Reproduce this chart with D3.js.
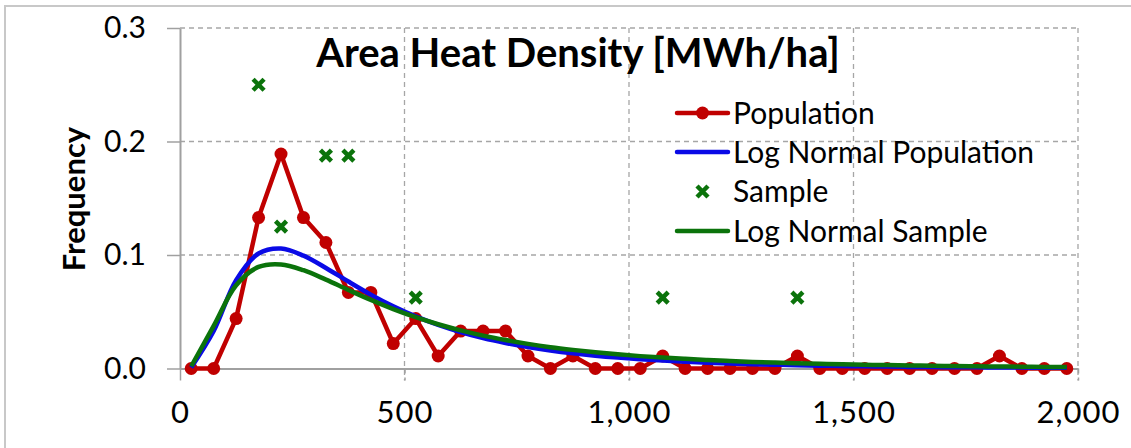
<!DOCTYPE html>
<html>
<head>
<meta charset="utf-8">
<script src="https://cdn.jsdelivr.net/npm/d3@7"></script>
<style>
  html, body { margin: 0; padding: 0; background: #fff; }
  svg { display: block; }
  text { font-family: Lato, "Open Sans", "Liberation Sans", sans-serif; fill: #000; }
</style>
</head>
<body>
<svg id="chart" width="1131" height="448"></svg>
<script>
// Bin centres of the heat density classes [MWh/ha]
const binCenters = [25, 75, 125, 175, 225, 275, 325, 375, 425, 475,
  525, 575, 625, 675, 725, 775, 825, 875, 925, 975,
  1025, 1075, 1125, 1175, 1225, 1275, 1325, 1375, 1425, 1475,
  1525, 1575, 1625, 1675, 1725, 1775, 1825, 1875, 1925, 1975];

// Observed frequency of the whole population per bin
const population = [0, 0, 0.044, 0.133, 0.189, 0.133, 0.111, 0.067, 0.067, 0.022,
  0.044, 0.011, 0.033, 0.033, 0.033, 0.011, 0, 0.011, 0, 0,
  0, 0.011, 0, 0, 0, 0, 0, 0.011, 0, 0,
  0, 0, 0, 0, 0, 0, 0.011, 0, 0, 0];

// Fitted log-normal frequency, population
const logNormalPopulation = [0.0008, 0.0330, 0.0778, 0.1013, 0.1057, 0.0994, 0.0886, 0.0766, 0.0651, 0.0548,
  0.0459, 0.0384, 0.0321, 0.0268, 0.0225, 0.0189, 0.0159, 0.0134, 0.0113, 0.0096,
  0.0082, 0.0070, 0.0060, 0.0051, 0.0044, 0.0038, 0.0033, 0.0029, 0.0025, 0.0022,
  0.0019, 0.0017, 0.0014, 0.0013, 0.0011, 0.0010, 0.0009, 0.0008, 0.0007, 0.0006];

// Fitted log-normal frequency, sample
const logNormalSample = [0.0020, 0.0375, 0.0733, 0.0895, 0.0917, 0.0866, 0.0783, 0.0692, 0.0604, 0.0524,
  0.0452, 0.0390, 0.0336, 0.0290, 0.0251, 0.0217, 0.0188, 0.0164, 0.0143, 0.0125,
  0.0109, 0.0096, 0.0085, 0.0075, 0.0066, 0.0058, 0.0052, 0.0046, 0.0041, 0.0037,
  0.0033, 0.0030, 0.0027, 0.0024, 0.0022, 0.0019, 0.0018, 0.0016, 0.0014, 0.0013];

// Sample frequencies (non-empty bins)
const sampleX = [175, 225, 325, 375, 525, 1075, 1375];
const sampleY = [0.25, 0.125, 0.1875, 0.1875, 0.0625, 0.0625, 0.0625];

const xTicks = [0, 500, 1000, 1500, 2000];
const yTicks = [0, 0.1, 0.2, 0.3];

const titleText = "Area Heat Density [MWh/ha]";
const yLabelText = "Frequency";
const seriesNames = ["Population", "Log Normal Population", "Sample", "Log Normal Sample"];

const COLORS = { pop: "#C00000", lnPop: "#0A0AE6", sample: "#0B730B", lnSample: "#0B730B" };
const GRID = "#A6A6A6";
const AXIS = "#A0A0A0";

const svg = d3.select("#chart");

// chart area border
svg.append("path")
  .attr("d", "M5,448 L5,6 L1131,6")
  .attr("fill", "none")
  .attr("stroke", "#C8C8C8")
  .attr("stroke-width", 2);

const x = d3.scaleLinear().domain([0, 2000]).range([180, 1078]);
const y = d3.scaleLinear().domain([0, 0.3]).range([368.5, 28]);

// gridlines
const grid = svg.append("g").attr("stroke", GRID).attr("stroke-width", 1.3)
  .attr("stroke-dasharray", "5,4");
grid.selectAll("line.h").data(yTicks.filter(d => d > 0)).join("line")
  .attr("x1", x(0)).attr("x2", x(2000))
  .attr("y1", d => y(d)).attr("y2", d => y(d));
grid.selectAll("line.v").data(xTicks.filter(d => d > 0)).join("line")
  .attr("x1", d => x(d)).attr("x2", d => x(d))
  .attr("y1", y(0.3)).attr("y2", y(0) + 12);

// axes
const xAxis = svg.append("g")
  .attr("transform", `translate(0,${y(0)})`)
  .call(d3.axisBottom(x).tickValues(xTicks).tickFormat(d3.format(",")).tickSize(12).tickSizeOuter(0).tickPadding(20));
const yAxis = svg.append("g")
  .attr("transform", `translate(${x(0)},0)`)
  .call(d3.axisLeft(y).tickValues(yTicks).tickFormat(d3.format(".1f")).tickSize(13).tickSizeOuter(0).tickPadding(21));

[xAxis, yAxis].forEach(a => {
  a.select(".domain").attr("stroke", AXIS).attr("stroke-width", 2);
  a.selectAll(".tick line").attr("stroke", AXIS).attr("stroke-width", 1.5);
  a.selectAll(".tick text").attr("font-family", "Lato, sans-serif").attr("fill", "#000");
});
yAxis.selectAll(".tick text").attr("font-size", 30);
xAxis.selectAll(".tick text").attr("font-size", 31).attr("letter-spacing", 1);
xAxis.selectAll(".tick").filter(d => d > 0).select("line").attr("stroke-dasharray", "5,4");

// y axis title
svg.append("text")
  .attr("transform", "translate(85,199) rotate(-90)")
  .attr("text-anchor", "middle")
  .attr("font-weight", "bold")
  .attr("font-size", 31)
  .text(yLabelText);

// chart title
svg.append("text")
  .attr("x", 578).attr("y", 67)
  .attr("text-anchor", "middle")
  .attr("font-weight", "bold")
  .attr("font-size", 40)
  .text(titleText);

const popData = binCenters.map((d, i) => [d, population[i]]);
const lnPopData = binCenters.map((d, i) => [d, logNormalPopulation[i]]);
const lnSampleData = binCenters.map((d, i) => [d, logNormalSample[i]]);
const sampleData = sampleX.map((d, i) => [d, sampleY[i]]);

const straight = d3.line().x(d => x(d[0])).y(d => y(d[1]));
const smooth = d3.line().x(d => x(d[0])).y(d => y(d[1])).curve(d3.curveCatmullRom.alpha(0.5));

const plot = svg.append("g");

// Population
plot.append("path").datum(popData)
  .attr("d", straight).attr("fill", "none")
  .attr("stroke", COLORS.pop).attr("stroke-width", 4.5).attr("stroke-linejoin", "round");
plot.selectAll("circle.pop").data(popData).join("circle")
  .attr("cx", d => x(d[0])).attr("cy", d => y(d[1])).attr("r", 6.5)
  .attr("fill", COLORS.pop);

// Log normal population
plot.append("path").datum(lnPopData)
  .attr("d", smooth).attr("fill", "none")
  .attr("stroke", COLORS.lnPop).attr("stroke-width", 4.5).attr("stroke-linejoin", "round");

// Sample markers
function crossPath(cx, cy, h) {
  return `M${cx - h},${cy - h}L${cx + h},${cy + h}M${cx - h},${cy + h}L${cx + h},${cy - h}`;
}
plot.selectAll("path.sample").data(sampleData).join("path")
  .attr("d", d => crossPath(x(d[0]), y(d[1]), 5.5))
  .attr("stroke", COLORS.sample).attr("stroke-width", 4.5).attr("fill", "none");

// Log normal sample
plot.append("path").datum(lnSampleData)
  .attr("d", smooth).attr("fill", "none")
  .attr("stroke", COLORS.lnSample).attr("stroke-width", 4.5).attr("stroke-linejoin", "round");

// legend
const legend = svg.append("g");
const rowY = [113, 152, 191.5, 231];
const sw0 = 677, sw1 = 728, textX = 733;
seriesNames.forEach((name, i) => {
  const ry = rowY[i];
  if (i !== 2) {
    legend.append("line").attr("x1", sw0).attr("x2", sw1).attr("y1", ry).attr("y2", ry)
      .attr("stroke", [COLORS.pop, COLORS.lnPop, null, COLORS.lnSample][i])
      .attr("stroke-width", 4.5).attr("stroke-linecap", "round");
  }
  if (i === 0) {
    legend.append("circle").attr("cx", (sw0 + sw1) / 2).attr("cy", ry).attr("r", 6.5).attr("fill", COLORS.pop);
  }
  if (i === 2) {
    legend.append("path").attr("d", crossPath((sw0 + sw1) / 2, ry, 5.5))
      .attr("stroke", COLORS.sample).attr("stroke-width", 4.5).attr("fill", "none");
  }
  legend.append("text").attr("x", textX).attr("y", ry + 10.5)
    .attr("font-size", 30).text(name);
});
</script>
</body>
</html>
